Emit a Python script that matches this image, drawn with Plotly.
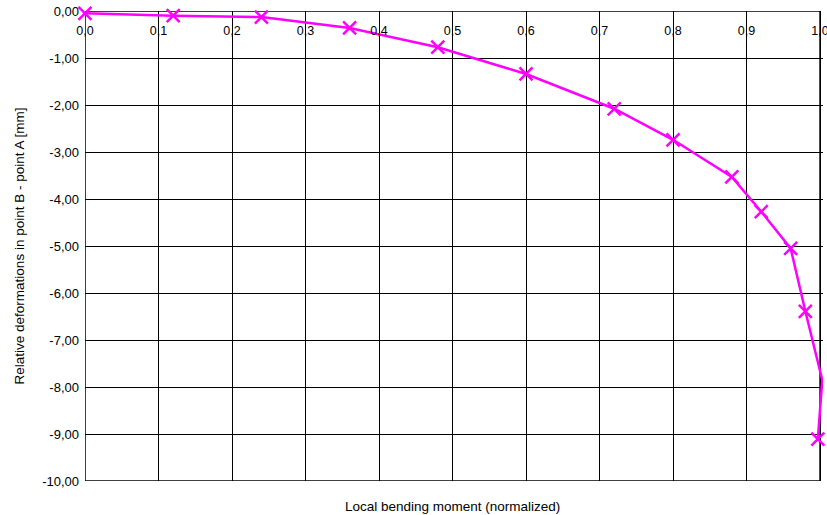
import plotly.graph_objects as go

# Normalized local bending moment vs. relative deformation B - A [mm]
moment = [0.0, 0.12, 0.24, 0.36, 0.48, 0.60, 0.72, 0.80, 0.88, 0.92, 0.96, 0.98, 1.003, 0.997]
deformation = [-0.05, -0.10, -0.13, -0.36, -0.77, -1.34, -2.08, -2.74, -3.53, -4.27, -5.05, -6.39, -7.85, -9.11]

x_ticks = [0.0, 0.1, 0.2, 0.3, 0.4, 0.5, 0.6, 0.7, 0.8, 0.9, 1.0]
x_labels = ["0,0", "0,1", "0,2", "0,3", "0,4", "0,5", "0,6", "0,7", "0,8", "0,9", "1,0"]
y_ticks = [0, -1, -2, -3, -4, -5, -6, -7, -8, -9, -10]
y_labels = ["0,00", "-1,00", "-2,00", "-3,00", "-4,00", "-5,00", "-6,00",
            "-7,00", "-8,00", "-9,00", "-10,00"]

MAGENTA = "#FF00FF"
FONT = "Liberation Sans, Arial, sans-serif"

fig = go.Figure()
fig.add_trace(go.Scatter(
    x=moment, y=deformation, mode="lines",
    line=dict(color=MAGENTA, width=2.5), showlegend=False, cliponaxis=False,
))
# markers only for samples inside the axis range
mx = [m for m in moment if m <= 1.0]
my = [d for m, d in zip(moment, deformation) if m <= 1.0]
fig.add_trace(go.Scatter(
    x=mx, y=my, mode="markers",
    marker=dict(symbol="x-thin-open", size=13, color=MAGENTA,
                line=dict(color=MAGENTA, width=2.5)),
    showlegend=False, cliponaxis=False,
))

fig.update_layout(
    width=827, height=515,
    margin=dict(l=85, r=4, t=11, b=34, autoexpand=False),
    paper_bgcolor="white", plot_bgcolor="white",
    font=dict(family=FONT, size=12, color="black"),
    xaxis=dict(
        range=[0, 1.004], side="bottom", anchor="free", position=1.0,
        ticklabeloverflow="allow", automargin=False, ticklabelstandoff=10,
        tickvals=x_ticks, ticktext=x_labels, ticks="",
        showgrid=True, gridcolor="black", gridwidth=1,
        showline=False, zeroline=False, tickfont=dict(size=12.5, family=FONT),
    ),
    yaxis=dict(
        range=[-10, 0], tickvals=y_ticks, ticktext=y_labels, ticks="",
        showgrid=True, gridcolor="black", gridwidth=1,
        showline=False, zeroline=False,
        tickfont=dict(size=13, family=FONT), automargin=False,
        ticklabelstandoff=5,
        title=dict(text="Relative deformations in point B - point A [mm]",
                   font=dict(size=13.5, family=FONT), standoff=14),
    ),
    # frame around the 0..1 x 0..-10 region
    shapes=[dict(type="rect", xref="x", yref="y", x0=0, x1=1.0, y0=-10, y1=0,
                 line=dict(color="black", width=1.5), layer="below")],
    annotations=[dict(
        text="Local bending moment (normalized)", xref="x", yref="paper",
        x=0.5, y=-0.034, xanchor="center", yanchor="top", showarrow=False,
        font=dict(size=13.5, family=FONT),
    )],
)

fig.write_html("out.html")
